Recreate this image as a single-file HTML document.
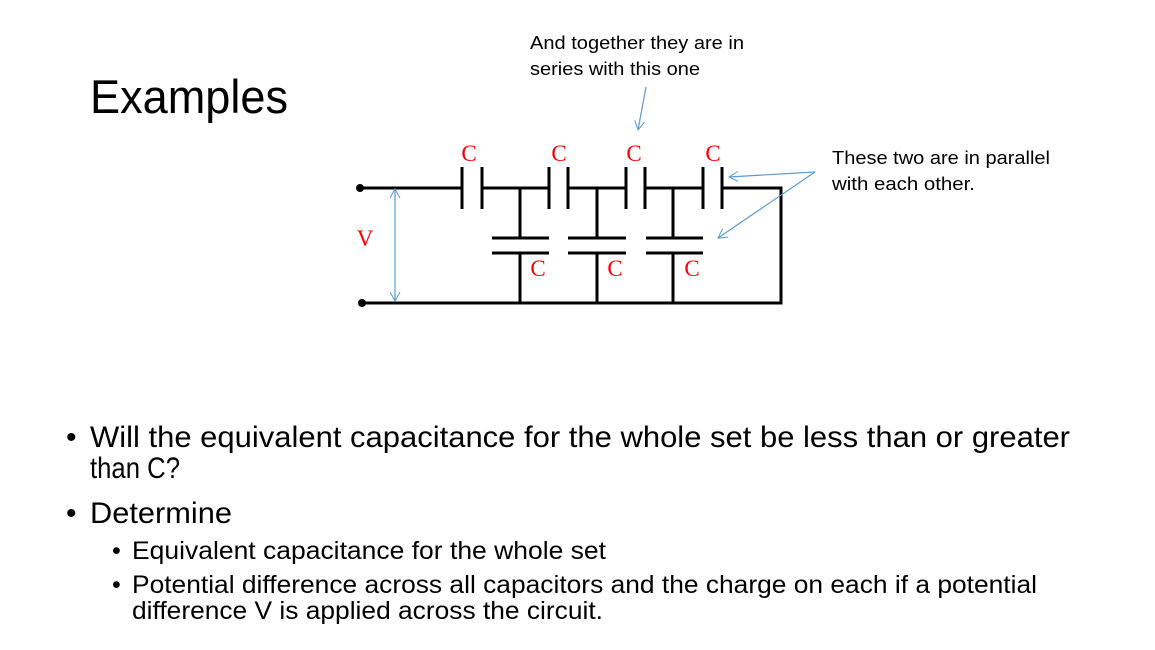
<!DOCTYPE html>
<html><head><meta charset="utf-8"><style>
html,body{margin:0;padding:0;background:#fff;}
svg{display:block;}
text{font-family:"Liberation Sans",sans-serif;}
.c{font-family:"Liberation Serif",serif;fill:#f00;font-size:23px;text-anchor:middle;}
</style></head><body>
<svg width="1155" height="650" viewBox="0 0 1155 650" xmlns="http://www.w3.org/2000/svg">
<defs>
<marker id="ah" markerWidth="12" markerHeight="12" refX="10" refY="6" orient="auto-start-reverse" markerUnits="userSpaceOnUse">
<path d="M1,1 L10,6 L1,11" fill="none" stroke="#5b9bd5" stroke-width="1"/>
</marker>
</defs>
<text x="90" y="113" font-size="47" textLength="198" lengthAdjust="spacingAndGlyphs">Examples</text>

<g stroke="#000" stroke-width="3" fill="none">
<path d="M360 188 H462 M482 188 H549 M568 188 H626 M645 188 H703 M722 188 H781 V303 H360"/>
<path d="M462 167V209 M482 167V209 M549 167V209 M568 167V209 M626 167V209 M645 167V209 M703 167V209 M722 167V209"/>
<path d="M520 188V238 M492 238H549 M492 253H549 M520 253V303"/>
<path d="M597 188V238 M568 238H626 M568 253H626 M597 253V303"/>
<path d="M673 188V238 M646 238H703 M646 253H703 M673 253V303"/>
</g>
<circle cx="360" cy="188" r="4" fill="#000"/>
<circle cx="362" cy="303" r="4" fill="#000"/>

<g stroke="#5b9bd5" stroke-width="1.2" fill="none">
<line x1="395" y1="189" x2="395" y2="301" marker-end="url(#ah)" marker-start="url(#ah)"/>
<line x1="646" y1="87" x2="638" y2="130" marker-end="url(#ah)"/>
<line x1="815" y1="172" x2="729" y2="177" marker-end="url(#ah)"/>
<line x1="815" y1="172" x2="718" y2="238" marker-end="url(#ah)"/>
</g>

<text class="c" x="365" y="246">V</text>
<text class="c" x="469" y="161">C</text>
<text class="c" x="559" y="161">C</text>
<text class="c" x="634" y="161">C</text>
<text class="c" x="713" y="161">C</text>
<text class="c" x="538" y="276">C</text>
<text class="c" x="615" y="276">C</text>
<text class="c" x="692" y="276">C</text>

<g font-size="18">
<text x="530" y="49" textLength="214" lengthAdjust="spacingAndGlyphs">And together they are in</text>
<text x="530" y="75" textLength="170" lengthAdjust="spacingAndGlyphs">series with this one</text>
<text x="832" y="164" textLength="218" lengthAdjust="spacingAndGlyphs">These two are in parallel</text>
<text x="832" y="190" textLength="143" lengthAdjust="spacingAndGlyphs">with each other.</text>
</g>

<g font-size="30">
<text x="66" y="447">•</text>
<text x="90" y="447" textLength="980" lengthAdjust="spacingAndGlyphs">Will the equivalent capacitance for the whole set be less than or greater</text>
<text x="90" y="478" textLength="90" lengthAdjust="spacingAndGlyphs">than C?</text>
<text x="66" y="523">•</text>
<text x="90" y="523" textLength="142" lengthAdjust="spacingAndGlyphs">Determine</text>
</g>
<g font-size="25">
<text x="112" y="559">•</text>
<text x="132" y="559" textLength="474" lengthAdjust="spacingAndGlyphs">Equivalent capacitance for the whole set</text>
<text x="112" y="593">•</text>
<text x="132" y="593" textLength="905" lengthAdjust="spacingAndGlyphs">Potential difference across all capacitors and the charge on each if a potential</text>
<text x="132" y="619" textLength="471" lengthAdjust="spacingAndGlyphs">difference V is applied across the circuit.</text>
</g>
</svg>
</body></html>
